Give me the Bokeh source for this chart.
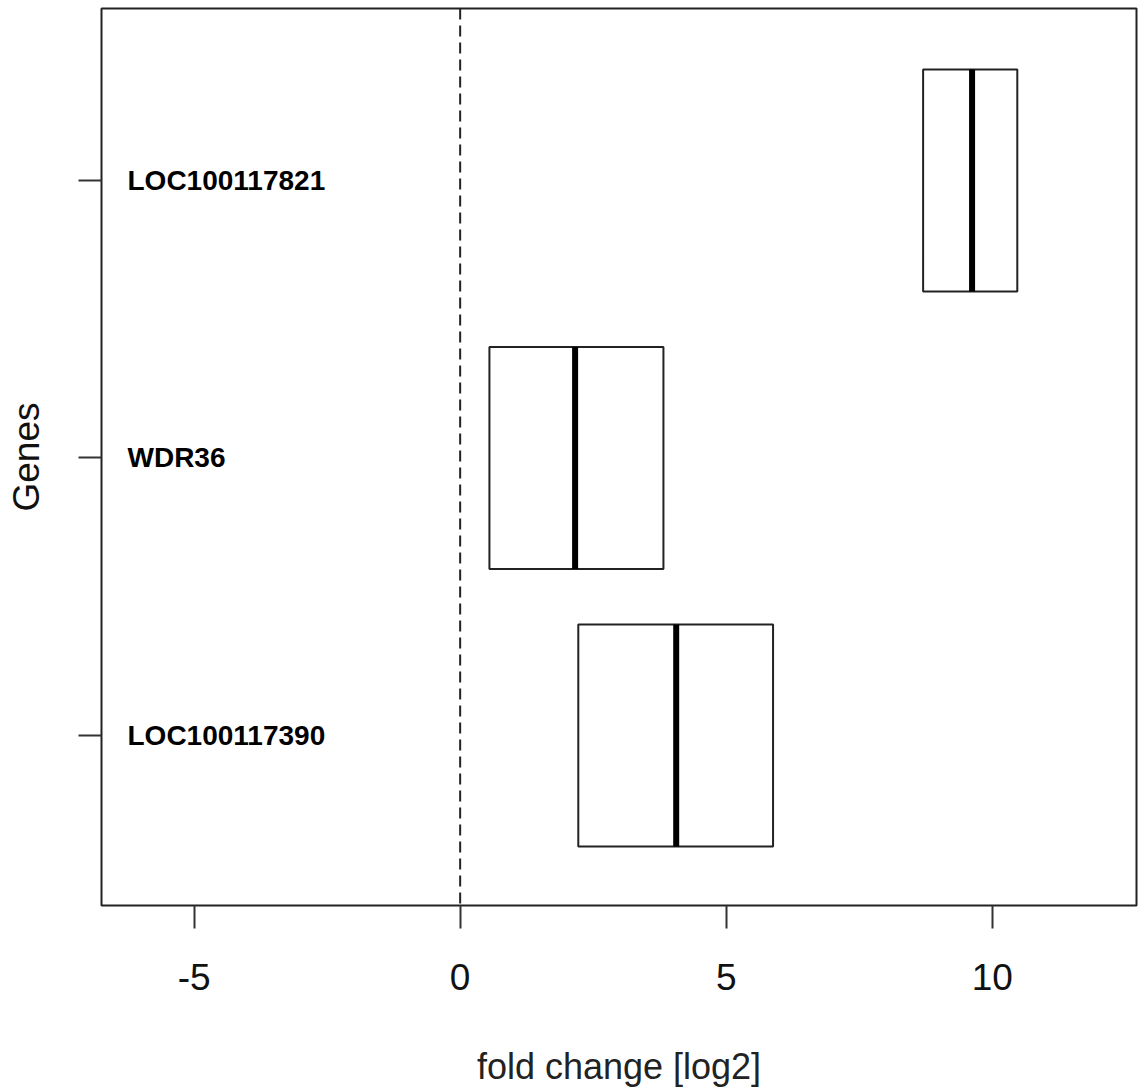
from bokeh.plotting import figure
from bokeh.models import Range1d, FixedTicker, Span, ColumnDataSource
from bokeh.core.properties import value
from bokeh.embed import file_html
from bokeh.resources import INLINE

# ---- data (bottom to top) ----
genes = ["LOC100117390", "WDR36", "LOC100117821"]
q1 = [2.22, 0.55, 8.70]
median = [4.06, 2.16, 9.62]
q3 = [5.88, 3.82, 10.47]
x_ticks = [-5, 0, 5, 10]
x_tick_labels = ["-5", "0", "5", "10"]

pos = list(range(1, len(genes) + 1))
box_h = 0.8
x_start, x_end = -6.74, 12.71

src = ColumnDataSource(dict(
    gene=genes, pos=pos, q1=q1, med=median, q3=q3,
    lo=[p_ - box_h / 2 for p_ in pos], hi=[p_ + box_h / 2 for p_ in pos],
    xl=[x_start] * len(genes),
))

p = figure(width=1138, height=1092, output_backend="svg", toolbar_location=None,
           x_range=Range1d(x_start, x_end), y_range=Range1d(0.387, 3.62),
           min_border_left=101, min_border_right=2, min_border_top=8, min_border_bottom=187)

p.xgrid.visible = False
p.ygrid.visible = False
p.background_fill_color = "white"
p.border_fill_color = "white"
p.outline_line_color = "#222222"
p.outline_line_width = 2

FONT = "Liberation Sans"

# x axis
xa = p.xaxis[0]
xa.ticker = FixedTicker(ticks=x_ticks)
xa.major_label_overrides = dict(zip(x_ticks, x_tick_labels))
xa.minor_tick_line_color = None
xa.axis_line_color = None
xa.major_tick_out = 23
xa.major_tick_in = 0
xa.major_tick_line_width = 2
xa.major_tick_line_color = "#333333"
xa.major_label_text_font = FONT
xa.major_label_text_font_size = "37px"
xa.major_label_text_color = "#111111"
xa.major_label_standoff = 35
xa.axis_label = "fold change [log2]"
xa.axis_label_text_font = FONT
xa.axis_label_text_font_style = "normal"
xa.axis_label_text_font_size = "36px"
xa.axis_label_text_color = "#222222"
xa.axis_label_standoff = 53

# y axis
ya = p.yaxis[0]
ya.ticker = FixedTicker(ticks=pos)
ya.major_label_overrides = {k: "" for k in pos}
ya.minor_tick_line_color = None
ya.axis_line_color = None
ya.major_tick_out = 23
ya.major_tick_in = 0
ya.major_tick_line_width = 2
ya.major_tick_line_color = "#333333"
ya.major_label_standoff = 5
ya.axis_label = "Genes"
ya.axis_label_text_font = FONT
ya.axis_label_text_font_style = "normal"
ya.axis_label_text_font_size = "37px"
ya.axis_label_text_color = "#111111"
ya.axis_label_standoff = 32

# zero reference line
p.add_layout(Span(location=0, dimension="height", line_color="#222222",
                  line_width=2, line_dash="11 6"))

# boxes
p.hbar(y="pos", left="q1", right="q3", height=box_h, source=src,
       fill_color="white", line_color="#222222", line_width=2)
# medians
p.segment(x0="med", y0="lo", x1="med", y1="hi", source=src,
          line_color="black", line_width=6)

# gene labels inside plot
p.text(x="xl", y="pos", text="gene", source=src, x_offset=26,
       text_font=value(FONT), text_font_style="bold", text_font_size="28px",
       text_align="left", text_baseline="middle", text_color="black")

open("out.html", "w").write(file_html(p, INLINE))
